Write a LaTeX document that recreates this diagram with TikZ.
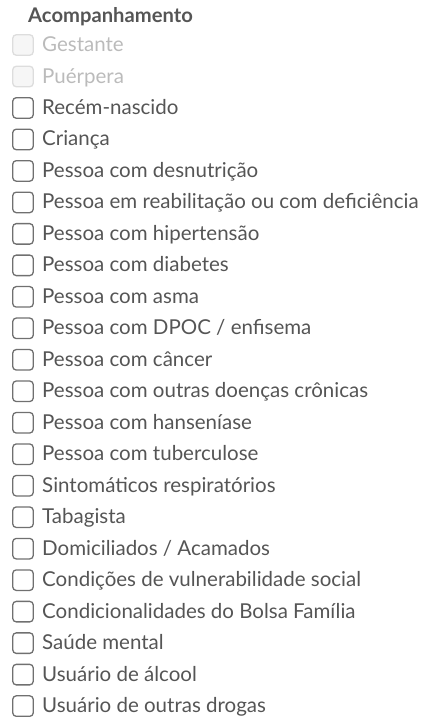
\documentclass[tikz,border=0pt]{standalone}
\usepackage{fontspec}
\setmainfont{Lato}
\definecolor{labelgray}{HTML}{555555}
\definecolor{boxgray}{HTML}{707070}
\definecolor{offtext}{HTML}{BBBBBB}
\definecolor{offbox}{HTML}{DDDDDD}
\definecolor{offfill}{HTML}{F6F6F6}
\tikzset{
  chkbox/.style={draw=boxgray, line width=1.3pt, rounded corners=3.5pt,
    minimum size=20.5pt, inner sep=0pt},
  chkoff/.style={chkbox, draw=offbox, fill=offfill},
  chklabel/.style={anchor=base west, inner sep=0pt, text=labelgray,
    font=\fontsize{20.5}{23}\selectfont},
  offlabel/.style={chklabel, text=offtext},
}
\begin{document}
\begin{tikzpicture}[x=1pt,y=-1pt]
    \useasboundingbox (0,0) rectangle (428,728);
    % Title
    \node[anchor=base west, inner sep=0pt, text=labelgray,
      font=\fontsize{20.2}{23}\bfseries\selectfont] (title) at (28,23) {Acompanhamento};
    % Disabled rows
    \node[chkoff] (box0) at (23,45) {};
    \node[offlabel] (lab0) at (42,51.5) {Gestante};
    \node[chkoff] (box1) at (23,76.5) {};
    \node[offlabel] (lab1) at (42,83) {Puérpera};
    % Rows
    \foreach \t [count=\i from 2] in {Recém-nascido, Criança, Pessoa com desnutrição,
        Pessoa em reabilitação ou com deficiência, Pessoa com hipertensão,
        Pessoa com diabetes, Pessoa com asma, Pessoa com DPOC / enfisema,
        Pessoa com câncer, Pessoa com outras doenças crônicas,
        Pessoa com hanseníase, Pessoa com tuberculose,
        Sintomáticos respiratórios, Tabagista, Domiciliados / Acamados,
        Condições de vulnerabilidade social,
        Condicionalidades do Bolsa Família, Saúde mental,
        Usuário de álcool, Usuário de outras drogas} {
      \pgfmathsetmacro{\yc}{45+31.48*\i}
      \node[chkbox] (box\i) at (23,\yc) {};
      \node[chklabel] (lab\i) at (42,\yc+6.5) {\t};
    }
  \end{tikzpicture}
\end{document}
